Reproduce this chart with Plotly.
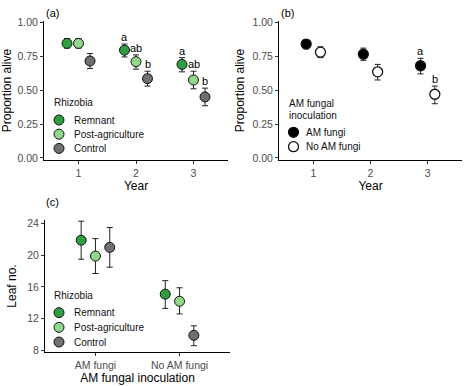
import plotly.graph_objects as go

W, H = 467, 386

# ---------------- data ----------------
years = [1, 2, 3]
rhizobia = ["Remnant", "Post-agriculture", "Control"]
rhiz_colors = ["#2e9e43", "#92d68b", "#707070"]
rhiz_offsets = [-0.2, 0.0, 0.2]

# Panel (a): proportion alive by rhizobia
surv_a = {
    "Remnant": [0.845, 0.795, 0.690],
    "Post-agriculture": [0.845, 0.710, 0.575],
    "Control": [0.715, 0.585, 0.450],
}
surv_a_hi = {
    "Remnant": [0.880, 0.840, 0.740],
    "Post-agriculture": [0.880, 0.760, 0.640],
    "Control": [0.770, 0.640, 0.515],
}
surv_a_lo = {
    "Remnant": [0.810, 0.745, 0.635],
    "Post-agriculture": [0.810, 0.655, 0.510],
    "Control": [0.660, 0.530, 0.385],
}
letters_a = {
    "Remnant": ["", "a", "a"],
    "Post-agriculture": ["", "ab", "ab"],
    "Control": ["", "b", "b"],
}

# Panel (b): proportion alive by AM fungi
amf = ["AM fungi", "No AM fungi"]
amf_fill = ["#000000", "#ffffff"]
amf_offsets = [-0.125, 0.125]
surv_b = {"AM fungi": [0.840, 0.765, 0.680], "No AM fungi": [0.780, 0.635, 0.470]}
surv_b_hi = {"AM fungi": [0.870, 0.810, 0.735], "No AM fungi": [0.820, 0.690, 0.530]}
surv_b_lo = {"AM fungi": [0.805, 0.720, 0.620], "No AM fungi": [0.740, 0.575, 0.400]}
letters_b = {"AM fungi": ["", "", "a"], "No AM fungi": ["", "", "b"]}

# Panel (c): leaf number
inoc = ["AM fungi", "No AM fungi"]
rhiz_offsets_c = [-0.17, 0.0, 0.17]
leaf = {
    "Remnant": [21.9, 15.1],
    "Post-agriculture": [19.9, 14.2],
    "Control": [21.0, 9.9],
}
leaf_hi = {
    "Remnant": [24.3, 16.8],
    "Post-agriculture": [22.1, 15.9],
    "Control": [23.5, 11.1],
}
leaf_lo = {
    "Remnant": [19.5, 13.3],
    "Post-agriculture": [17.7, 12.6],
    "Control": [18.5, 8.6],
}

FONT = "Liberation Sans, Arial, sans-serif"
TICKC = "#4d4d4d"
MS = 10

fig = go.Figure()


def px_x(a, b):
    return [a / W, b / W]


def px_y(top, bottom):
    return [1 - bottom / H, 1 - top / H]


def err(hi, lo, y):
    return dict(type="data", symmetric=False,
                array=[h - v for h, v in zip(hi, y)],
                arrayminus=[v - l for l, v in zip(lo, y)],
                color="#222222", thickness=1, width=3)


# ----- panel (a) -----
for name, col, off in zip(rhizobia, rhiz_colors, rhiz_offsets):
    y = surv_a[name]
    fig.add_trace(go.Scatter(
        x=[yr + off for yr in years], y=y, mode="markers", name=name,
        xaxis="x", yaxis="y", showlegend=False,
        marker=dict(size=MS, color=col, line=dict(color="#111111", width=1)),
        error_y=err(surv_a_hi[name], surv_a_lo[name], y),
    ))
    for yr, t, hi in zip(years, letters_a[name], surv_a_hi[name]):
        if t:
            fig.add_annotation(x=yr + off, y=hi, xref="x", yref="y", text=t,
                               showarrow=False, yanchor="bottom", yshift=-1,
                               font=dict(size=11, color="#000000", family=FONT))

# ----- panel (b) -----
for name, fill, off in zip(amf, amf_fill, amf_offsets):
    y = surv_b[name]
    fig.add_trace(go.Scatter(
        x=[yr + off for yr in years], y=y, mode="markers", name=name,
        xaxis="x2", yaxis="y2", showlegend=False,
        marker=dict(size=MS, color=fill, line=dict(color="#111111", width=1.3)),
        error_y=err(surv_b_hi[name], surv_b_lo[name], y),
    ))
    for yr, t, hi in zip(years, letters_b[name], surv_b_hi[name]):
        if t:
            fig.add_annotation(x=yr + off, y=hi, xref="x2", yref="y2", text=t,
                               showarrow=False, yanchor="bottom", yshift=-1,
                               font=dict(size=11, color="#000000", family=FONT))

# ----- panel (c) -----
for name, col, off in zip(rhizobia, rhiz_colors, rhiz_offsets_c):
    y = leaf[name]
    fig.add_trace(go.Scatter(
        x=[i + 1 + off for i in range(len(inoc))], y=y, mode="markers", name=name,
        xaxis="x3", yaxis="y3", showlegend=False,
        marker=dict(size=MS, color=col, line=dict(color="#111111", width=1)),
        error_y=err(leaf_hi[name], leaf_lo[name], y),
    ))

# ----- compact legends (ggplot-like key spacing) -----
LEGFONT = dict(size=10, color="#111111", family=FONT)


def add_legend(xa, ya, names, fills, title_lines, title_idx, text_x, line_w=1.0):
    idx = list(range(len(names)))
    fig.add_trace(go.Scatter(
        x=[7] * len(names), y=idx, mode="markers", xaxis=xa, yaxis=ya,
        showlegend=False, hoverinfo="skip",
        marker=dict(size=MS, color=fills, line=dict(color="#111111", width=line_w)),
    ))
    ref_x = "x" + xa[1:]
    ref_y = "y" + ya[1:]
    for i, n in zip(idx, names):
        fig.add_annotation(x=text_x, y=i, xref=ref_x, yref=ref_y, text=n,
                           showarrow=False, xanchor="left", yanchor="middle",
                           font=LEGFONT)
    for t, ti in zip(title_lines, title_idx):
        fig.add_annotation(x=0, y=ti, xref=ref_x, yref=ref_y, text=t,
                           showarrow=False, xanchor="left", yanchor="middle",
                           font=LEGFONT)


add_legend("x4", "y4", rhizobia, rhiz_colors, ["Rhizobia"], [-1.2], 19.5)
add_legend("x5", "y5", rhizobia, rhiz_colors, ["Rhizobia"], [-1.2], 19.5)
add_legend("x6", "y6", amf, amf_fill, ["AM fungal", "inoculation"], [-1.98, -1.16], 17, 1.3)

axis_common = dict(showline=True, linecolor="#000000", linewidth=1,
                   ticks="outside", ticklen=3, tickcolor="#333333",
                   showgrid=False, zeroline=False,
                   tickfont=dict(size=10.5, color=TICKC, family=FONT))
hidden = dict(visible=False, showgrid=False, zeroline=False, fixedrange=True)

title_font = dict(size=12, color="#000000", family=FONT)
p_ticks = dict(tickvals=[0, 0.25, 0.5, 0.75, 1.0], ticktext=["0.00", "0.25", "0.50", "0.75", "1.00"])

# legend key axes: 1 x-unit = 1 px, 1 y-unit = one key row; ranges extended upward to hold titles
fig.update_layout(
    width=W, height=H, margin=dict(l=0, r=0, t=0, b=0, autoexpand=False),
    paper_bgcolor="white", plot_bgcolor="rgba(0,0,0,0)",
    font=dict(family=FONT), showlegend=False, hovermode=False,
    xaxis=dict(domain=px_x(44, 228), range=[0.4, 3.6], tickvals=years,
               title=dict(text="Year", font=title_font, standoff=0), anchor="y", **axis_common),
    yaxis=dict(domain=px_y(21, 160), range=[-0.015, 1.01], **p_ticks,
               title=dict(text="Proportion alive", font=title_font, standoff=5), anchor="x", **axis_common),
    xaxis2=dict(domain=px_x(279, 462), range=[0.4, 3.6], tickvals=years,
                title=dict(text="Year", font=title_font, standoff=0), anchor="y2", **axis_common),
    yaxis2=dict(domain=px_y(21, 160), range=[-0.015, 1.01], **p_ticks,
                title=dict(text="Proportion alive", font=title_font, standoff=5), anchor="x2", **axis_common),
    xaxis3=dict(domain=px_x(45, 230), range=[0.4, 2.6], tickvals=[1, 2], ticktext=inoc,
                title=dict(text="AM fungal inoculation", font=title_font, standoff=3), anchor="y3", **axis_common),
    yaxis3=dict(domain=px_y(220, 352), range=[7.8, 24.45], tickvals=[8, 12, 16, 20, 24],
                title=dict(text="Leaf no.", font=title_font, standoff=8), anchor="x3", **axis_common),
    xaxis4=dict(domain=px_x(52, 152), range=[0, 100], anchor="y4", **hidden),
    yaxis4=dict(domain=px_y(112.9 - 2 * 14.2, 155.5), range=[2.5, -2.5], anchor="x4", **hidden),
    xaxis5=dict(domain=px_x(52, 152), range=[0, 100], anchor="y5", **hidden),
    yaxis5=dict(domain=px_y(305.3 - 2 * 14.7, 349.4), range=[2.5, -2.5], anchor="x5", **hidden),
    xaxis6=dict(domain=px_x(286.5, 386.5), range=[0, 100], anchor="y6", **hidden),
    yaxis6=dict(domain=px_y(125.1 - 3 * 14.4, 153.9), range=[1.5, -3.5], anchor="x6", **hidden),
)

for txt, x, y in [("(a)", 44, 13), ("(b)", 279, 13), ("(c)", 44, 202)]:
    fig.add_annotation(text=txt, x=x / W, y=1 - y / H, xref="paper", yref="paper",
                       showarrow=False, xanchor="left", yanchor="middle",
                       font=dict(size=11, color="#000000", family=FONT))

fig.write_html("out.html", config={"displayModeBar": False, "staticPlot": True},
               post_script="document.body.style.margin='0px';")
